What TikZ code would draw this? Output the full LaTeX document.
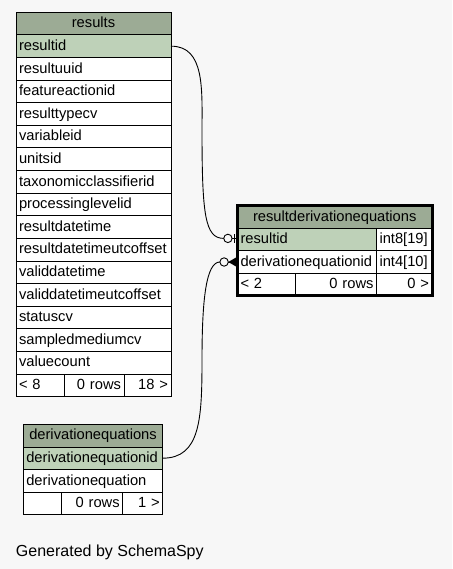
\documentclass[tikz,border=0pt]{standalone}
\usepackage{fontspec}
\setmainfont{Liberation Sans}
\usetikzlibrary{calc}
\definecolor{hdrc}{HTML}{9CAB95}
\definecolor{pkc}{HTML}{BED1B8}
\definecolor{bgc}{HTML}{F7F7F7}
\newcommand{\tfont}{\fontsize{14.7}{17}\selectfont}
\begin{document}
\begin{tikzpicture}[x=1pt,y=-1pt,
  every node/.style={outer sep=0pt},
  cell/.style={draw=black, line width=0.8pt, inner xsep=3pt, inner ysep=0pt,
    minimum height=22.6pt, anchor=north west, font=\tfont,
    text height=11pt, text depth=2.5pt, fill=white},
  hdrcell/.style={cell, fill=hdrc, align=center},
  pkcell/.style={cell, fill=pkc, align=left},
  fldcell/.style={cell, align=left},
  ftcell/.style={cell, align=right},
  odot/.style={circle, draw=black, line width=0.9pt, fill=bgc, minimum size=8.4pt, inner sep=0pt},
  conn/.style={draw=black, line width=0.9pt}]
\fill[bgc] (0,0) rectangle (452,569);
\useasboundingbox (0,0) rectangle (452,569);

% results table
\node[hdrcell, text width=149pt] (rh) at (16,12.3) {results};
\node[pkcell, text width=149pt] (r0) at (16,34.9) {resultid};
\foreach \t [count=\i] in {resultuuid,featureactionid,resulttypecv,variableid,unitsid,taxonomicclassifierid,processinglevelid,resultdatetime,resultdatetimeutcoffset,validdatetime,validdatetimeutcoffset,statuscv,sampledmediumcv,valuecount}
  \node[fldcell, text width=149pt] (r\i) at (16,{34.9+\i*22.6}) {\t};
\node[fldcell, text width=42.3pt] (rf1) at (16,373.9) {< 8};
\node[ftcell, text width=53.7pt] (rf2) at (64.3,373.9) {0 rows};
\node[ftcell, text width=41pt] (rf3) at (124,373.9) {18 >};

% resultderivationequations table
\node[hdrcell, text width=188.5pt] (dh) at (237.5,205.5) {resultderivationequations};
\node[pkcell, text width=133pt] (rd1) at (237.5,228.1) {resultid};
\node[fldcell, text width=49.5pt] (rt1) at (376.5,228.1) {int8[19]};
\node[fldcell, text width=133pt] (rd2) at (237.5,250.7) {derivationequationid};
\node[fldcell, text width=49.5pt] (rt2) at (376.5,250.7) {int4[10]};
\node[fldcell, text width=52.2pt] (df1) at (237.5,273.3) {< 2};
\node[ftcell, text width=74.8pt] (df2) at (295.7,273.3) {0 rows};
\node[ftcell, text width=49.5pt] (df3) at (376.5,273.3) {0 >};
\draw[line width=3pt] (dh.north west) rectangle (df3.south east);

% derivationequations table
\node[hdrcell, text width=133.4pt] (eh) at (23.3,424.3) {derivationequations};
\node[pkcell, text width=133.4pt] (e1) at (23.3,446.9) {derivationequationid};
\node[fldcell, text width=133.4pt] (e2) at (23.3,469.5) {derivationequation};
\node[fldcell, text width=31.7pt] (ef1) at (23.3,492.1) {};
\node[ftcell, text width=55.7pt] (ef2) at (61,492.1) {0 rows};
\node[ftcell, text width=34pt] (ef3) at (122.7,492.1) {1 >};

% connector ends
\node[odot] (o1) at ($(rd1.west)+(-9.6,-1)$) {};
\node[odot] (o2) at ($(rd2.west)+(-13.4,0)$) {};
\coordinate (m1) at (202,130);
\coordinate (m2) at (202,360);

\draw[conn] (r0.east) .. controls (205,45.9) and (202,90) .. (m1)
  .. controls (202,215) and (205,238.4) .. (o1.west);
\draw[conn] (o1.east) -- ($(rd1.west)+(-1.5,-1)$);
\draw[conn] ($(rd1.west)+(-3,-5)$) -- ($(rd1.west)+(-3,4)$);

\draw[conn] (e1.east) .. controls (200,458) and (202,420) .. (m2)
  .. controls (202,300) and (206,262) .. (o2.west);
\draw[conn] (o2.east) -- ($(rd2.west)+(-1.5,0)$);
\fill[black] (o2.east) -- ($(rd2.west)+(-1.5,-4.5)$) -- ($(rd2.west)+(-1.5,4.5)$) -- cycle;

\node[anchor=base west, font=\fontsize{16}{19}\selectfont, inner sep=0pt] (gen) at (16,556.5) {Generated by SchemaSpy};
\end{tikzpicture}
\end{document}
